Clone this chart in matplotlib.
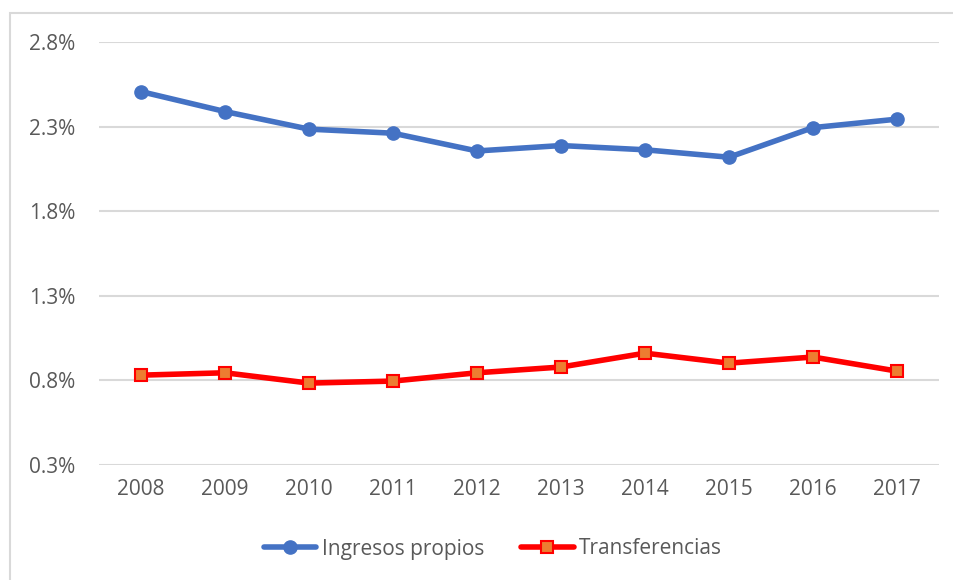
import matplotlib
matplotlib.use("Agg")
import matplotlib.pyplot as plt
from matplotlib.patches import Rectangle
from matplotlib.ticker import FuncFormatter

years = ["2008", "2009", "2010", "2011", "2012", "2013", "2014", "2015", "2016", "2017"]
ingresos_propios = [2.507, 2.389, 2.285, 2.261, 2.156, 2.188, 2.163, 2.119, 2.294, 2.344]
transferencias = [0.831, 0.845, 0.784, 0.796, 0.845, 0.879, 0.961, 0.902, 0.938, 0.855]
y_ticks = [0.3, 0.8, 1.3, 1.8, 2.3, 2.8]

plt.rcParams['font.family'] = ['Open Sans', 'DejaVu Sans']
text_color = "#595959"
grid_color = "#d9d9d9"

fig = plt.figure(figsize=(9.54, 5.8), dpi=100)
ax = fig.add_axes([99/954, 1 - 465/580, (939 - 99)/954, (465 - 42)/580])

# chart frame border (clipped on right and bottom)
fig.patches.append(Rectangle((10/954, -0.1), 1.2, (580 - 13)/580 + 0.1,
                             transform=fig.transFigure, fill=False,
                             edgecolor=grid_color, linewidth=1.5))

x = list(range(len(years)))
ax.plot(x, ingresos_propios, color="#4472C4", linewidth=4, marker="o",
        markersize=9.5, markerfacecolor="#4472C4", markeredgecolor="#4472C4",
        label="Ingresos propios", solid_capstyle="round", zorder=3)
ax.plot(x, transferencias, color="#FF0000", linewidth=4, marker="s",
        markersize=8.5, markerfacecolor="#ED7D31", markeredgecolor="#FF0000",
        markeredgewidth=1.5, label="Transferencias", solid_capstyle="round", zorder=3)

ax.set_xlim(-0.5, len(years) - 0.5)
ax.set_ylim(0.3, 2.8)
ax.set_yticks(y_ticks)
ax.yaxis.set_major_formatter(FuncFormatter(lambda v, p: f"{v:.1f}%"))
ax.set_xticks(x)
ax.set_xticklabels(years)

ax.grid(axis="y", color=grid_color, linewidth=1.5, zorder=0)
ax.set_axisbelow(True)
for s in ax.spines.values():
    s.set_visible(False)
ax.tick_params(axis="both", length=0, labelsize=15, labelcolor=text_color)
ax.tick_params(axis="y", pad=17)
ax.tick_params(axis="x", pad=10)

fig.legend(loc="center", bbox_to_anchor=(493/954, 1 - 549/580), ncol=2,
           frameon=False, fontsize=15, labelcolor=text_color,
           handlelength=2.5, handletextpad=0.25, columnspacing=1.8)

fig.savefig("out.png", dpi=100)
